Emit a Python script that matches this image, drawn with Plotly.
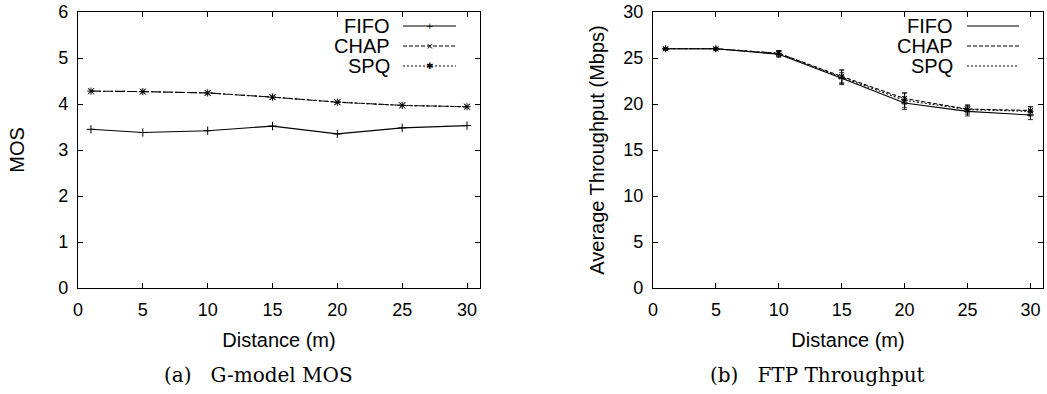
import plotly.graph_objects as go

W, H = 1047, 394

# ---------------- data ----------------
distance = [1, 5, 10, 15, 20, 25, 30]

mos_fifo = [3.45, 3.38, 3.42, 3.52, 3.35, 3.48, 3.53]
mos_chap = [4.28, 4.27, 4.24, 4.15, 4.04, 3.97, 3.94]
mos_spq = [4.28, 4.27, 4.24, 4.15, 4.04, 3.97, 3.94]

thr_fifo = [26.0, 26.0, 25.4, 22.8, 20.1, 19.2, 18.8]
thr_chap = [26.0, 26.0, 25.5, 23.0, 20.6, 19.45, 19.3]
thr_spq = [26.0, 26.0, 25.5, 22.9, 20.4, 19.4, 19.2]
thr_err_fifo = [0.1, 0.1, 0.3, 0.6, 0.7, 0.5, 0.5]
thr_err_chap = [0.1, 0.1, 0.3, 0.7, 0.6, 0.4, 0.4]
thr_err_spq = [0.1, 0.1, 0.3, 0.8, 0.8, 0.5, 0.5]

series_names = ["FIFO", "CHAP", "SPQ"]
dashes = ["solid", "4px,2px", "2px,2px"]
symbols = ["cross-thin-open", "x-thin-open", "asterisk-open"]
legend_glyphs = ["+", "×", "✱"]

x_ticks = [0, 5, 10, 15, 20, 25, 30]
mos_ticks = [0, 1, 2, 3, 4, 5, 6]
thr_ticks = [0, 5, 10, 15, 20, 25, 30]

# ---------------- layout geometry (page pixels) ----------------
def px(x):
    return x / W

def py(y):
    return 1 - y / H

L1, R1 = 78, 480
L2, R2 = 653, 1043
TOP, BOT = 12, 288

FONT = "Liberation Sans, Arial, Helvetica, sans-serif"
SERIF = "DejaVu Serif, Liberation Serif, serif"
FS_TICK = 18
FS_TXT = 20

fig = go.Figure()

mos_series = [mos_fifo, mos_chap, mos_spq]
thr_series = [thr_fifo, thr_chap, thr_spq]
thr_errs = [thr_err_fifo, thr_err_chap, thr_err_spq]

for name, vals, d, s in zip(series_names, mos_series, dashes, symbols):
    fig.add_trace(go.Scatter(
        x=distance, y=vals, name=name, mode="lines+markers",
        line=dict(color="black", width=1.1, dash=d),
        marker=dict(symbol=s, size=6, color="black", line=dict(color="black", width=1)),
        xaxis="x", yaxis="y", showlegend=False))

for name, vals, err, d, s in zip(series_names, thr_series, thr_errs, dashes, symbols):
    fig.add_trace(go.Scatter(
        x=distance, y=vals, name=name, mode="lines+markers",
        line=dict(color="black", width=1.1, dash=d),
        marker=dict(symbol=s, size=5, color="black", line=dict(color="black", width=1)),
        error_y=dict(type="data", array=err, visible=True, color="black",
                     thickness=0.8, width=2.5),
        xaxis="x2", yaxis="y2", showlegend=False))

axis_common = dict(
    showline=True, linecolor="black", linewidth=1.2, mirror="allticks",
    ticks="inside", ticklen=5, tickwidth=1, tickcolor="black",
    showgrid=False, zeroline=False, automargin=False,
    tickfont=dict(family=FONT, size=FS_TICK, color="black"),
)

fig.update_layout(
    template="none",
    width=W, height=H,
    margin=dict(l=0, r=0, t=0, b=0, autoexpand=False),
    paper_bgcolor="white", plot_bgcolor="white",
    font=dict(family=FONT, color="black"),
    xaxis=dict(domain=[px(L1), px(R1)], range=[0, 31], tickvals=x_ticks,
               anchor="y", ticklabelstandoff=5,
               title=dict(text="Distance (m)", font=dict(family=FONT, size=FS_TXT), standoff=14),
               **axis_common),
    yaxis=dict(domain=[py(BOT), py(TOP)], range=[0, 6], tickvals=mos_ticks,
               anchor="x", ticklabelstandoff=5,
               title=dict(text="MOS", font=dict(family=FONT, size=FS_TXT), standoff=28),
               **axis_common),
    xaxis2=dict(domain=[px(L2), px(R2)], range=[0, 31], tickvals=x_ticks,
                anchor="y2", ticklabelstandoff=5,
                title=dict(text="Distance (m)", font=dict(family=FONT, size=FS_TXT), standoff=14),
                **axis_common),
    yaxis2=dict(domain=[py(BOT), py(TOP)], range=[0, 30], tickvals=thr_ticks,
                anchor="x2", ticklabelstandoff=5,
                title=dict(text="Average Throughput (Mbps)", font=dict(family=FONT, size=FS_TXT), standoff=13),
                **axis_common),
)

# ---------------- gnuplot-style legends (text left, sample right) ----------------
legend_rows_y = [26, 46, 66]
legends = [
    dict(text_right=392, line_x0=403, line_x1=456, show_glyph=True),
    dict(text_right=955, line_x0=967, line_x1=1019, show_glyph=False),
]
for lg in legends:
    for name, d, g, yy in zip(series_names, dashes, legend_glyphs, legend_rows_y):
        fig.add_annotation(
            x=px(lg["text_right"]), y=py(yy), xref="paper", yref="paper",
            text=name, showarrow=False, xanchor="right", yanchor="middle",
            font=dict(family=FONT, size=FS_TXT, color="black"))
        fig.add_shape(type="line", xref="paper", yref="paper",
                      x0=px(lg["line_x0"]), x1=px(lg["line_x1"]),
                      y0=py(yy), y1=py(yy),
                      line=dict(color="black", width=1.1, dash=d))
        if lg["show_glyph"]:
            fig.add_annotation(
                x=px((lg["line_x0"] + lg["line_x1"]) / 2), y=py(yy),
                xref="paper", yref="paper", text=g, showarrow=False,
                xanchor="center", yanchor="middle",
                font=dict(family="DejaVu Sans", size=9, color="black"))

# ---------------- sub-captions ----------------
fig.add_annotation(x=px(258), y=py(375), xref="paper", yref="paper",
                   text="(a)&nbsp;&nbsp;&nbsp;G-model MOS", showarrow=False,
                   xanchor="center", yanchor="middle",
                   font=dict(family=SERIF, size=20, color="black"))
fig.add_annotation(x=px(817), y=py(375), xref="paper", yref="paper",
                   text="(b)&nbsp;&nbsp;&nbsp;FTP Throughput", showarrow=False,
                   xanchor="center", yanchor="middle",
                   font=dict(family=SERIF, size=20, color="black"))

# remove the browser's default 8px body margin so the figure sits at the page origin
fig.write_html("out.html",
               config={"displayModeBar": False},
               post_script="document.body.style.margin='0px';document.body.style.overflow='hidden';")
